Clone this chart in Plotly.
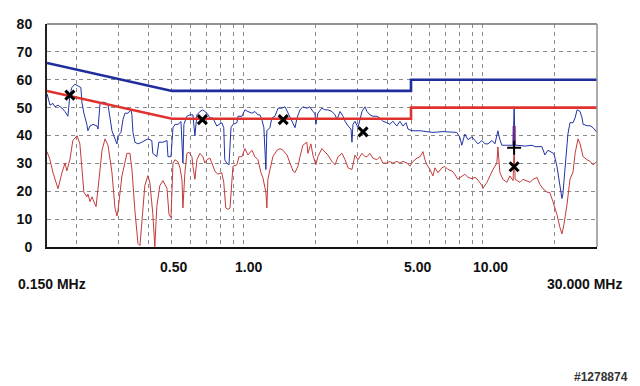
import math
import plotly.graph_objects as go

# ---------------- data ----------------
peak_freq = [0.150, 0.1544, 0.1589, 0.1620, 0.1668, 0.1733, 0.1784, 0.1834, 0.1870, 0.1906,
             0.1962, 0.2019, 0.2079, 0.2099, 0.2140, 0.2202, 0.2224, 0.2270, 0.2337, 0.2429,
             0.2452, 0.2500, 0.2573, 0.2675, 0.2700, 0.2753, 0.2804, 0.2887, 0.2943, 0.2971,
             0.3059, 0.3118, 0.3179, 0.3272, 0.3368, 0.3400, 0.3433, 0.3500, 0.3603, 0.3739,
             0.3849, 0.3962, 0.4117, 0.4157, 0.4320, 0.4405, 0.4585, 0.4765, 0.4811, 0.4952,
             0.5049, 0.5147, 0.5298, 0.5401, 0.5453, 0.5555, 0.5609, 0.5773, 0.5942, 0.6117,
             0.6236, 0.6357, 0.6544, 0.6735, 0.7000, 0.7205, 0.7417, 0.7698, 0.7923, 0.8078,
             0.8234, 0.8314, 0.8476, 0.8660, 0.8828, 0.9000, 0.9348, 0.9438, 0.9809, 1.0097,
             1.0393, 1.0801, 1.1118, 1.1444, 1.1667, 1.189, 1.2116, 1.2352, 1.2472, 1.2838,
             1.3087, 1.348, 1.389, 1.443, 1.486, 1.529, 1.589, 1.636, 1.668, 1.716,
             1.764, 1.834, 1.888, 1.943, 1.981, 2.000, 2.039, 2.119, 2.181, 2.245,
             2.335, 2.406, 2.452, 2.524, 2.598, 2.649, 2.727, 2.805, 2.831, 2.859,
             2.915, 3.000, 3.118, 3.209, 3.272, 3.365, 3.462, 3.598, 3.703, 3.812,
             3.962, 4.078, 4.198, 4.362, 4.494, 4.629, 4.765, 4.858, 5.048, 5.453,
             6.176, 6.801, 7.772, 8.000, 8.156, 8.395, 8.660, 9.000, 9.264, 9.536,
             9.904, 10.195, 10.494, 10.906, 11.226, 11.44, 11.546, 11.771, 12.0, 12.714,
             13.37, 13.5, 13.63, 13.90, 15.0, 16.05, 16.52, 17.64, 18.16, 18.70,
             19.43, 19.81, 20.39, 20.99, 21.40, 21.60, 22.24, 22.67, 23.13, 23.82,
             24.29, 24.76, 25.49, 25.98, 26.24, 27.27, 28.07, 28.88, 30.0]
peak_level = [55.0, 50.9, 51.5, 50.3, 50.9, 49.8, 48.6, 46.9, 54.4, 57.2,
              58.4, 57.8, 57.2, 52.0, 48.0, 44.0, 41.7, 43.4, 44.0, 43.4,
              42.3, 51.5, 52.0, 51.5, 50.9, 46.3, 41.7, 38.8, 37.0, 39.9,
              41.1, 45.7, 48.0, 48.0, 49.2, 47.4, 41.1, 37.6, 37.0, 37.6,
              38.2, 38.8, 38.2, 33.6, 32.4, 37.6, 37.6, 38.2, 32.4, 32.4,
              42.8, 44.0, 44.0, 44.6, 45.0, 30.1, 44.0, 46.9, 47.4, 47.4,
              39.9, 47.4, 48.6, 49.2, 48.0, 46.3, 46.3, 43.4, 44.0, 44.6,
              42.8, 31.3, 30.1, 29.5, 42.8, 44.0, 44.6, 46.9, 46.9, 49.2,
              48.6, 48.0, 48.6, 47.4, 47.4, 45.7, 42.8, 27.8, 41.7, 42.8,
              46.3, 46.9, 49.8, 49.8, 50.3, 48.0, 45.1, 42.8, 46.3, 49.2,
              50.3, 49.8, 50.3, 48.6, 48.0, 44.0, 48.0, 49.8, 49.2, 49.2,
              48.6, 47.4, 45.7, 48.6, 46.9, 45.1, 43.4, 42.3, 37.6, 44.0,
              45.1, 42.8, 48.6, 50.3, 48.6, 47.4, 46.9, 46.9, 46.3, 45.1,
              44.6, 44.0, 45.1, 43.4, 45.1, 43.4, 44.6, 42.3, 41.7, 41.7,
              41.1, 41.4, 41.1, 39.4, 36.5, 40.5, 38.5, 39.5, 38.2, 37.0,
              38.2, 37.0, 37.0, 38.2, 37.0, 39.9, 41.7, 38.5, 36.5, 36.5,
              36.5, 50.3, 36.5, 36.5, 36.2, 36.5, 36.0, 36.0, 33.0, 34.7,
              34.0, 33.5, 29.0, 22.0, 17.4, 19.0, 32.4, 40.5, 44.6, 44.6,
              46.3, 49.2, 48.6, 46.3, 44.0, 43.5, 43.5, 42.8, 41.1]

avg_freq = [0.150, 0.1544, 0.1589, 0.1668, 0.1733, 0.1784, 0.1816, 0.1870, 0.1924, 0.2003,
            0.2059, 0.2099, 0.2140, 0.2202, 0.2224, 0.2270, 0.2315, 0.2337, 0.2406, 0.2452,
            0.2549, 0.2624, 0.2700, 0.2804, 0.2887, 0.2943, 0.2971, 0.3088, 0.3240, 0.3335,
            0.3400, 0.3500, 0.3603, 0.3673, 0.3739, 0.3849, 0.3962, 0.4039, 0.4157, 0.4238,
            0.4320, 0.4447, 0.4585, 0.4765, 0.4858, 0.4952, 0.5049, 0.5147, 0.5298, 0.5401,
            0.5506, 0.5555, 0.5663, 0.5773, 0.5885, 0.6058, 0.6117, 0.6236, 0.6357, 0.6544,
            0.6735, 0.6866, 0.7000, 0.7205, 0.7346, 0.7550, 0.7772, 0.8078, 0.8234, 0.8395,
            0.8576, 0.8744, 0.8914, 0.9000, 0.9348, 0.9529, 0.9809, 1.0097, 1.0393, 1.0801,
            1.1118, 1.1444, 1.1780, 1.2, 1.2352, 1.2472, 1.2593, 1.2961, 1.3214, 1.375,
            1.416, 1.457, 1.515, 1.559, 1.605, 1.636, 1.684, 1.716, 1.764, 1.834,
            1.852, 1.906, 1.943, 2.000, 2.039, 2.119, 2.181, 2.245, 2.335, 2.406,
            2.476, 2.573, 2.649, 2.727, 2.831, 2.915, 3.000, 3.118, 3.209, 3.272,
            3.365, 3.462, 3.598, 3.703, 3.812, 3.962, 4.078, 4.198, 4.362, 4.494,
            4.629, 4.811, 4.952, 5.098, 5.298, 5.453, 5.611, 5.717, 5.829, 6.000,
            6.176, 6.296, 6.481, 6.735, 6.933, 7.137, 7.417, 7.623, 7.847, 8.156,
            8.395, 8.660, 9.000, 9.264, 9.536, 9.904, 10.0, 10.393, 10.698, 11.012,
            11.435, 11.546, 11.771, 12.116, 12.593, 12.961, 13.37, 13.5, 13.63, 14.29,
            14.71, 15.29, 15.74, 16.20, 16.83, 17.31, 17.82, 18.52, 19.06, 19.62,
            20.39, 20.99, 21.40, 21.81, 22.45, 23.13, 23.82, 24.29, 25.0, 25.49,
            26.24, 27.27, 28.07, 28.88, 30.0]
avg_level = [34.2, 31.3, 26.7, 20.9, 26.7, 30.1, 27.3, 31.3, 38.2, 39.9,
             37.0, 29.0, 19.7, 18.0, 19.0, 16.3, 18.0, 17.0, 14.5, 20.9,
             34.7, 38.8, 36.5, 26.7, 14.0, 11.1, 13.0, 25.5, 33.6, 33.6,
             27.8, 12.8, 1.3, 0.5, 9.0, 22.0, 25.6, 23.2, 12.0, 0.1,
             14.5, 22.0, 23.8, 21.0, 11.7, 10.5, 30.1, 31.3, 30.5, 28.4,
             24.0, 14.0, 26.7, 33.6, 34.0, 32.4, 29.0, 24.3, 31.3, 33.6,
             32.4, 30.1, 31.3, 31.9, 30.1, 27.3, 26.1, 26.7, 23.2, 14.0,
             13.5, 14.0, 24.3, 29.0, 29.5, 32.4, 32.4, 35.3, 33.0, 34.7,
             32.4, 31.3, 26.7, 24.9, 19.7, 14.0, 24.3, 28.9, 32.4, 34.7,
             35.3, 34.7, 33.0, 30.1, 27.3, 26.7, 29.0, 32.4, 36.5, 37.6,
             33.6, 37.0, 33.0, 29.5, 32.4, 35.3, 34.2, 33.0, 30.7, 29.5,
             32.4, 33.6, 31.3, 28.4, 27.8, 33.0, 31.3, 33.6, 32.4, 32.4,
             33.6, 31.9, 31.3, 32.4, 30.1, 30.1, 30.7, 30.1, 30.7, 30.1,
             30.7, 30.1, 29.0, 30.7, 31.9, 32.4, 34.2, 31.3, 29.5, 27.8,
             25.5, 28.4, 26.7, 28.4, 28.9, 27.8, 27.3, 26.1, 24.3, 25.5,
             26.1, 25.0, 24.5, 25.0, 24.0, 22.0, 21.0, 23.2, 25.5, 27.8,
             30.1, 35.9, 26.7, 24.3, 23.2, 25.5, 23.8, 36.5, 24.3, 23.2,
             24.3, 23.8, 23.2, 24.3, 24.9, 22.5, 20.9, 19.7, 19.5, 16.3,
             11.7, 7.0, 4.7, 8.0, 15.0, 24.3, 27.0, 33.6, 38.8, 37.0,
             32.4, 31.3, 30.7, 29.5, 30.7]

limit_freq = [0.15, 0.5, 5.0, 5.0, 30.0]
qp_limit = [66, 56, 56, 60, 60]
av_limit = [56, 46, 46, 50, 50]

marker_freq = [0.187, 0.67, 1.46, 3.15, 13.5]
marker_level = [54.5, 45.7, 45.7, 41.3, 28.8]
plus_freq = [13.5]
plus_level = [35.6]
bar_freq = [13.5, 13.5]
bar_level = [36.5, 43.4]

y_ticks = [0, 10, 20, 30, 40, 50, 60, 70, 80]
grid_freqs = [0.2, 0.3, 0.4, 0.5, 0.6, 0.7, 0.8, 0.9, 1, 2, 3, 4, 5, 6, 7, 8, 9, 10, 20]
x_labels = [("0.50", 0.5, 2), ("1.00", 1.0, 5), ("5.00", 5.0, 6), ("10.00", 10.0, 8)]

# ---------------- figure ----------------
fig = go.Figure()
fig.add_trace(go.Scatter(x=peak_freq, y=peak_level, mode="lines",
                         line=dict(color="#2233a6", width=1), hoverinfo="skip"))
fig.add_trace(go.Scatter(x=avg_freq, y=avg_level, mode="lines",
                         line=dict(color="#c43a3a", width=1), hoverinfo="skip"))
fig.add_trace(go.Scatter(x=limit_freq, y=qp_limit, mode="lines",
                         line=dict(color="#1f2c9c", width=2.6), hoverinfo="skip"))
fig.add_trace(go.Scatter(x=limit_freq, y=av_limit, mode="lines",
                         line=dict(color="#e0332e", width=2.6), hoverinfo="skip"))
fig.add_trace(go.Scatter(x=bar_freq, y=bar_level, mode="lines",
                         line=dict(color="#6a2a8c", width=3), hoverinfo="skip"))
fig.add_trace(go.Scatter(x=marker_freq, y=marker_level, mode="markers",
                         marker=dict(symbol="x-thin", size=9, color="black",
                                     line=dict(color="black", width=3)), hoverinfo="skip"))
fig.add_trace(go.Scatter(x=plus_freq, y=plus_level, mode="markers",
                         marker=dict(symbol="cross-thin", size=10, color="black",
                                     line=dict(color="black", width=2)), hoverinfo="skip"))

fig.update_layout(
    width=640, height=386,
    margin=dict(l=39, r=51, t=8, b=147),
    paper_bgcolor="white", plot_bgcolor="white",
    showlegend=False,
    xaxis=dict(type="log", range=[math.log10(0.15), math.log10(30)],
               tickvals=grid_freqs, showticklabels=False, ticks="",
               showgrid=True, gridcolor="#8a8a8a", gridwidth=1, griddash="4px,4px",
               showline=True, linecolor="#111", linewidth=2, zeroline=False),
    yaxis=dict(range=[0, 80], tickvals=y_ticks, ticktext=[str(v) for v in y_ticks],
               ticks="", ticklabelstandoff=10, ticklabeloverflow="allow",
               tickfont=dict(family="Liberation Sans, Arial, sans-serif", size=14, color="#111", weight="bold"),
               showgrid=True, gridcolor="#8a8a8a", gridwidth=1, griddash="4px,4px",
               showline=True, linecolor="#222", linewidth=2, zeroline=False),
)
# top and right frame in grey
fig.add_shape(type="line", xref="paper", yref="paper", x0=0, x1=1, y0=1, y1=1,
              line=dict(color="#707070", width=1.5))
fig.add_shape(type="line", xref="paper", yref="paper", x0=1, x1=1, y0=0, y1=1,
              line=dict(color="#909090", width=1.5))

bold = dict(family="Liberation Sans, Arial, sans-serif", size=14, color="#111", weight="bold")
for txt, f, dx in x_labels:
    fig.add_annotation(x=math.log10(f), y=0, xref="x", yref="paper", text=txt,
                       showarrow=False, xanchor="center", yanchor="middle",
                       xshift=dx, yshift=-20, font=bold)
fig.add_annotation(x=math.log10(0.15), y=0, xref="x", yref="paper", text="0.150 MHz",
                   showarrow=False, xanchor="center", yanchor="middle",
                   xshift=5, yshift=-37, font=bold)
fig.add_annotation(x=math.log10(30), y=0, xref="x", yref="paper", text="30.000 MHz",
                   showarrow=False, xanchor="center", yanchor="middle",
                   xshift=-13, yshift=-37, font=bold)
fig.add_annotation(x=1, y=0, xref="paper", yref="paper", text="#1278874",
                   showarrow=False, xanchor="right", yanchor="middle",
                   xshift=33, yshift=-130,
                   font=dict(family="Liberation Sans, Arial, sans-serif", size=12, color="#333", weight="bold"))

fig.write_html("out.html")
